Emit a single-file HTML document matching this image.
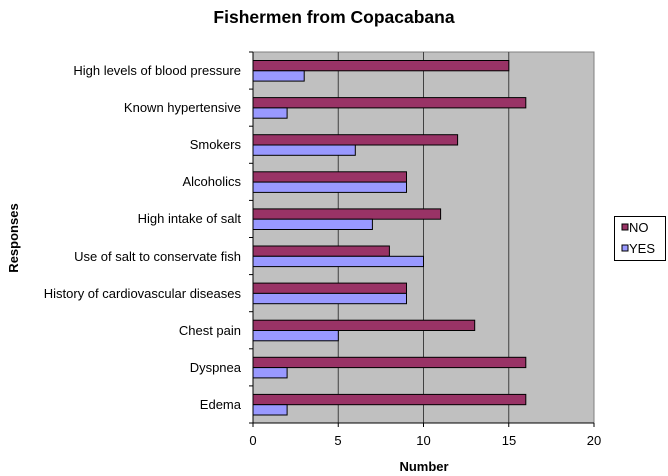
<!DOCTYPE html>
<html><head><style>body{margin:0;background:#fff}svg{display:block}</style></head><body>
<svg width="668" height="476" xmlns="http://www.w3.org/2000/svg" font-family="Liberation Sans, Arial, sans-serif">
<text x="334" y="23" text-anchor="middle" font-size="17.5" font-weight="bold">Fishermen from Copacabana</text>
<rect x="253" y="52" width="341" height="371" fill="#c0c0c0" stroke="#808080"/>
<g stroke="#404040" stroke-width="1">
<line x1="338.25" y1="52" x2="338.25" y2="423"/><line x1="423.5" y1="52" x2="423.5" y2="423"/><line x1="508.75" y1="52" x2="508.75" y2="423"/>
</g>
<line x1="253" y1="52" x2="253" y2="427" stroke="#000"/>
<line x1="253" y1="423" x2="594" y2="423" stroke="#000"/>
<g stroke="#000">
<line x1="249" y1="52" x2="253" y2="52"/><line x1="249" y1="89.1" x2="253" y2="89.1"/><line x1="249" y1="126.2" x2="253" y2="126.2"/><line x1="249" y1="163.3" x2="253" y2="163.3"/><line x1="249" y1="200.4" x2="253" y2="200.4"/><line x1="249" y1="237.5" x2="253" y2="237.5"/><line x1="249" y1="274.6" x2="253" y2="274.6"/><line x1="249" y1="311.7" x2="253" y2="311.7"/><line x1="249" y1="348.8" x2="253" y2="348.8"/><line x1="249" y1="385.9" x2="253" y2="385.9"/><line x1="249" y1="423" x2="253" y2="423"/>
<line x1="338.25" y1="423" x2="338.25" y2="427"/><line x1="423.5" y1="423" x2="423.5" y2="427"/><line x1="508.75" y1="423" x2="508.75" y2="427"/><line x1="594" y1="423" x2="594" y2="427"/>
</g>
<g stroke="#000" stroke-width="1">
<rect x="253" y="60.5" width="255.8" height="10.3" fill="#993366"/><rect x="253" y="70.8" width="51.2" height="10.3" fill="#9999ff"/>
<rect x="253" y="97.6" width="272.8" height="10.3" fill="#993366"/><rect x="253" y="107.9" width="34.1" height="10.3" fill="#9999ff"/>
<rect x="253" y="134.7" width="204.6" height="10.3" fill="#993366"/><rect x="253" y="145" width="102.3" height="10.3" fill="#9999ff"/>
<rect x="253" y="171.8" width="153.5" height="10.3" fill="#993366"/><rect x="253" y="182.1" width="153.5" height="10.3" fill="#9999ff"/>
<rect x="253" y="208.9" width="187.6" height="10.3" fill="#993366"/><rect x="253" y="219.2" width="119.4" height="10.3" fill="#9999ff"/>
<rect x="253" y="246" width="136.4" height="10.3" fill="#993366"/><rect x="253" y="256.3" width="170.5" height="10.3" fill="#9999ff"/>
<rect x="253" y="283.1" width="153.5" height="10.3" fill="#993366"/><rect x="253" y="293.4" width="153.5" height="10.3" fill="#9999ff"/>
<rect x="253" y="320.2" width="221.7" height="10.3" fill="#993366"/><rect x="253" y="330.5" width="85.3" height="10.3" fill="#9999ff"/>
<rect x="253" y="357.3" width="272.8" height="10.3" fill="#993366"/><rect x="253" y="367.6" width="34.1" height="10.3" fill="#9999ff"/>
<rect x="253" y="394.4" width="272.8" height="10.3" fill="#993366"/><rect x="253" y="404.7" width="34.1" height="10.3" fill="#9999ff"/>
</g>
<g font-size="13" text-anchor="end">
<text x="241" y="75">High levels of blood pressure</text>
<text x="241" y="112">Known hypertensive</text>
<text x="241" y="149">Smokers</text>
<text x="241" y="186">Alcoholics</text>
<text x="241" y="223">High intake of salt</text>
<text x="241" y="261">Use of salt to conservate fish</text>
<text x="241" y="298">History of cardiovascular diseases</text>
<text x="241" y="335">Chest pain</text>
<text x="241" y="372">Dyspnea</text>
<text x="241" y="409">Edema</text>
</g>
<g font-size="13" text-anchor="middle">
<text x="253" y="445">0</text><text x="338" y="445">5</text><text x="423.5" y="445">10</text><text x="509" y="445">15</text><text x="594" y="445">20</text>
</g>
<text x="424" y="471" text-anchor="middle" font-size="13" font-weight="bold">Number</text>
<text transform="translate(18,238) rotate(-90)" text-anchor="middle" font-size="13" font-weight="bold">Responses</text>
<rect x="614.5" y="216.5" width="51" height="44" fill="#fff" stroke="#000"/>
<rect x="622" y="224" width="6" height="6" fill="#993366" stroke="#000"/>
<rect x="622" y="245" width="6" height="6" fill="#9999ff" stroke="#000"/>
<text x="629" y="232" font-size="13">NO</text>
<text x="629" y="253" font-size="13">YES</text>
</svg>
</body></html>
